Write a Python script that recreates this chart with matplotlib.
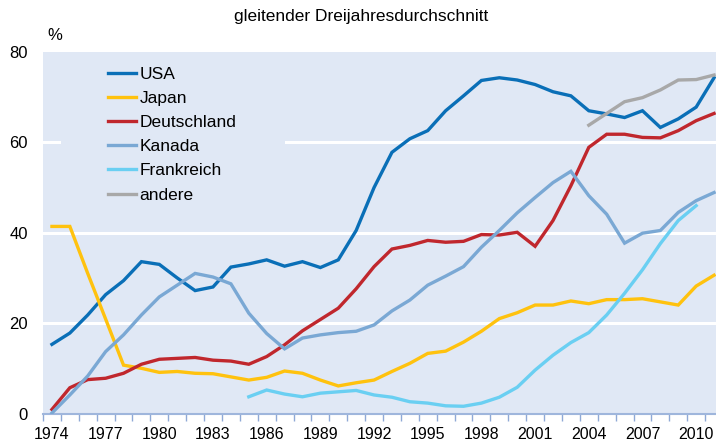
import numpy as np
import matplotlib.pyplot as plt
from matplotlib.patches import Rectangle

plt.rcParams['font.family'] = ['Liberation Sans', 'DejaVu Sans']

# Daten (gleitender Dreijahresdurchschnitt, %)
jahre = list(range(1974, 2012))

usa = [15.3, 17.8, 21.8, 26.3, 29.4, 33.6, 33.0, 30.0, 27.2, 28.0, 32.4, 33.1, 34.0, 32.6, 33.6, 32.3, 34.0,
       40.5, 50.0, 57.8, 60.8, 62.6, 67.0, 70.3, 73.7, 74.3, 73.8, 72.8, 71.2, 70.3, 67.0, 66.3, 65.5,
       67.0, 63.3, 65.2, 67.8, 74.3]
japan = [41.4, 41.4, 31.0, 20.9, 10.7, 10.0, 9.1, 9.3, 8.9, 8.8, 8.1, 7.4, 8.0, 9.4, 8.9, 7.4, 6.1,
         6.8, 7.4, 9.3, 11.1, 13.3, 13.8, 15.8, 18.2, 21.0, 22.3, 24.0, 24.0, 24.9, 24.3, 25.2, 25.2,
         25.4, 24.7, 24.0, 28.2, 30.6]
deutschland = [0.9, 5.7, 7.5, 7.8, 8.9, 10.9, 12.0, 12.2, 12.4, 11.8, 11.6, 10.9, 12.6, 15.2, 18.3, 20.8,
               23.3, 27.6, 32.5, 36.4, 37.2, 38.3, 37.9, 38.1, 39.6, 39.5, 40.1, 37.0, 42.7, 50.4, 58.9,
               61.8, 61.8, 61.1, 61.0, 62.6, 64.8, 66.4]
kanada = [0.1, 4.1, 8.3, 13.7, 17.4, 21.8, 25.8, 28.4, 31.0, 30.2, 28.7, 22.2, 17.7, 14.3, 16.7, 17.4,
          17.9, 18.2, 19.6, 22.7, 25.1, 28.4, 30.4, 32.5, 36.8, 40.5, 44.4, 47.8, 51.1, 53.6, 48.2,
          44.1, 37.7, 39.9, 40.5, 44.5, 47.1, 48.9]
frankreich = [None] * 11 + [3.7, 5.2, 4.3, 3.7, 4.5, 4.8, 5.1, 4.1, 3.6, 2.6, 2.3, 1.7, 1.6, 2.3, 3.6,
                            5.8, 9.6, 12.9, 15.7, 17.9, 21.8, 26.6, 31.8, 37.6, 42.7, 46.0, None]
andere = [None] * 30 + [63.8, 66.4, 69.0, 69.9, 71.6, 73.8, 73.9, 74.9]

serien = [
    ('USA', usa, '#0a6fb7'),
    ('Japan', japan, '#ffc20e'),
    ('Deutschland', deutschland, '#c0272d'),
    ('Kanada', kanada, '#7aa8d4'),
    ('Frankreich', frankreich, '#6acff2'),
    ('andere', andere, '#a8a8a8'),
]

bg = '#e0e8f5'

fig = plt.figure(figsize=(7.16, 4.46), dpi=100)
ax = fig.add_axes([43 / 716, 1 - 413.5 / 446, 680 / 716, 361.5 / 446])
ax.set_facecolor(bg)

pos = np.arange(len(jahre))
for name, werte, farbe in serien:
    w = np.array([np.nan if v is None else v for v in werte], dtype=float)
    ax.plot(pos, w, color=farbe, lw=2.4, label=name, zorder=3, solid_joinstyle='miter')

ax.set_xlim(-0.5, len(jahre) - 0.5)
ax.set_ylim(0, 80)
ax.set_yticks([0, 20, 40, 60, 80])
ax.grid(axis='y', color='white', lw=2.2, zorder=0.5)
ax.set_axisbelow(True)
gl = ax.yaxis.get_gridlines()
gl[0].set_visible(False)
gl[-1].set_visible(False)

# Legendenhintergrund verdeckt die Gitterlinie
ax.add_patch(Rectangle((0.026, 0.57), 0.33, 0.43, transform=ax.transAxes,
                       facecolor=bg, edgecolor='none', zorder=1))

label_pos = pos[::3]
ax.set_xticks(label_pos)
ax.set_xticklabels([str(j) for j in jahre[::3]], fontsize=11.5)
ax.set_xticks(np.arange(len(jahre) + 1) - 0.5, minor=True)
ax.tick_params(axis='x', which='major', length=0, pad=10)
ax.tick_params(axis='x', which='minor', length=5, color='#8fa9d6', width=1)
ax.tick_params(axis='y', length=0, pad=11, labelsize=12)

for s in ['top', 'right', 'left']:
    ax.spines[s].set_visible(False)
ax.spines['bottom'].set_color('#9fb6dc')
ax.spines['bottom'].set_linewidth(1.5)

ax.legend(loc='upper left', bbox_to_anchor=(0.085, 0.979), frameon=False, fontsize=12.5,
          handlelength=1.6, handletextpad=0.23, labelspacing=0.52, borderaxespad=0)

fig.text(0.505, 0.962, 'gleitender Dreijahresdurchschnitt', ha='center', va='center', fontsize=12.5)
fig.text(55 / 716, 1 - 35 / 446, '%', ha='center', va='center', fontsize=12)

fig.savefig('out.png', dpi=100)
